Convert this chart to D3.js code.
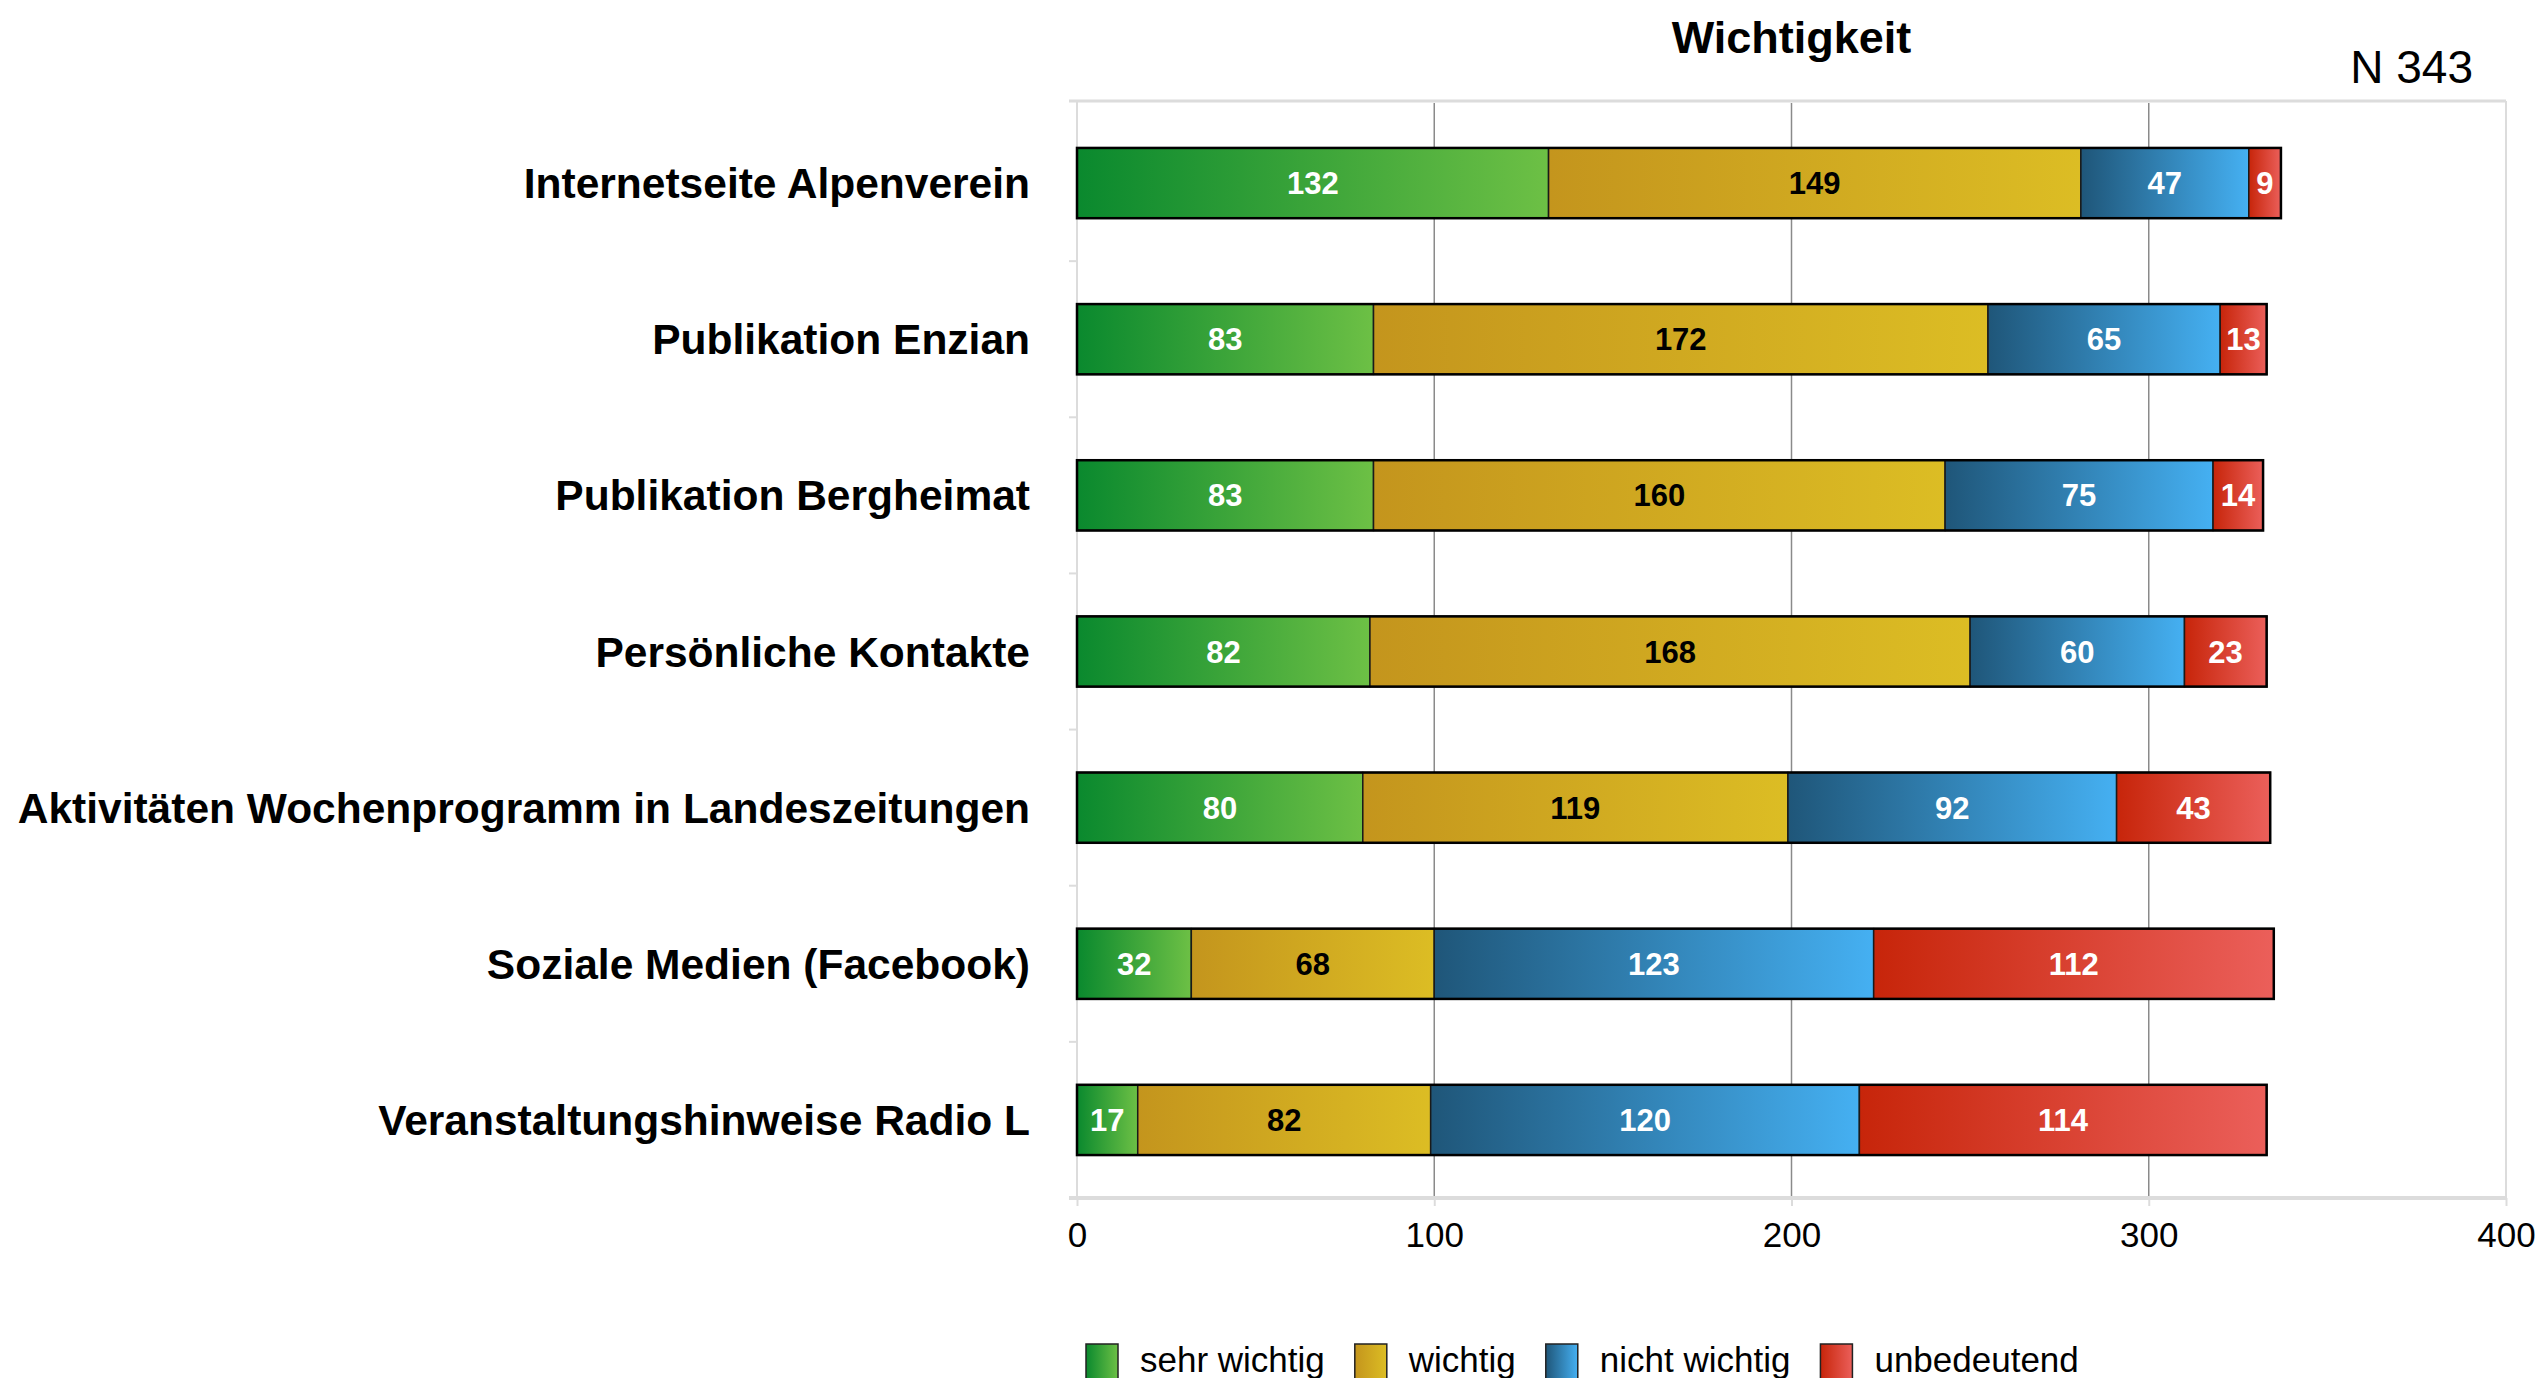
<!DOCTYPE html>
<html>
<head>
<meta charset="utf-8">
<script src="https://cdn.jsdelivr.net/npm/d3@7"></script>
<style>
  body { margin: 0; background: #fff; }
  text { font-family: "Liberation Sans", Arial, Helvetica, sans-serif; }
</style>
</head>
<body>
<script>
var width = 2537, height = 1378;

// data
var categories = [
  "Internetseite Alpenverein",
  "Publikation Enzian",
  "Publikation Bergheimat",
  "Persönliche Kontakte",
  "Aktivitäten Wochenprogramm in Landeszeitungen",
  "Soziale Medien (Facebook)",
  "Veranstaltungshinweise Radio L"
];
var seriesNames = ["sehr wichtig", "wichtig", "nicht wichtig", "unbedeutend"];
var sehrWichtig  = [132, 83, 83, 82, 80, 32, 17];
var wichtig      = [149, 172, 160, 168, 119, 68, 82];
var nichtWichtig = [47, 65, 75, 60, 92, 123, 120];
var unbedeutend  = [9, 13, 14, 23, 43, 112, 114];
var xTicks = [0, 100, 200, 300, 400];
var titleText = "Wichtigkeit";
var noteText = "N 343";

var seriesValues = [sehrWichtig, wichtig, nichtWichtig, unbedeutend];
// gradient stops per series (dark -> light), label colour
var gradColors = [
  ["#0a892e", "#6dc045"],
  ["#c4951d", "#dcbd24"],
  ["#1f5679", "#45b0f2"],
  ["#c7250a", "#eb5f5a"]
];
var labelColors = ["#fff", "#000", "#fff", "#fff"];

var rows = categories.map(function(c, i) {
  var r = {cat: c};
  seriesNames.forEach(function(s, j) { r[s] = seriesValues[j][i]; });
  return r;
});

var svg = d3.select("body")
.append("svg")
.attr("width", width)
.attr("height", height);

var defs = svg.append("defs");
gradColors.forEach(function(g, i) {
  var lg = defs.append("linearGradient")
  .attr("id", "grad" + i)
  .attr("x1", "0%").attr("x2", "100%")
  .attr("y1", "0%").attr("y2", "0%");
  lg.append("stop").attr("offset", "0%").attr("stop-color", g[0]);
  lg.append("stop").attr("offset", "100%").attr("stop-color", g[1]);
});

var plotLeft = 1077, plotRight = 2506, plotTop = 101, plotBottom = 1198;

var x = d3.scaleLinear()
.domain([0, 400])
.range([plotLeft, plotRight]);

var y = d3.scaleBand()
.domain(categories)
.range([plotTop + 4, plotBottom])
.paddingInner(0.55)
.paddingOuter(0.275);

var stack = d3.stack().keys(seriesNames);
var stacked = stack(rows);

// frame: top and right border, light gray
svg.append("line")
.attr("x1", plotLeft - 8).attr("x2", plotRight)
.attr("y1", plotTop).attr("y2", plotTop)
.attr("stroke", "#dcdcdc").attr("stroke-width", 3);
svg.append("line")
.attr("x1", plotRight).attr("x2", plotRight)
.attr("y1", plotTop).attr("y2", plotBottom)
.attr("stroke", "#dcdcdc").attr("stroke-width", 2);
svg.append("line")
.attr("x1", plotLeft).attr("x2", plotLeft)
.attr("y1", plotTop).attr("y2", plotBottom)
.attr("stroke", "#dcdcdc").attr("stroke-width", 2);

// gridlines
svg.selectAll(".grid")
.data(xTicks.slice(1, -1))
.enter()
.append("line")
.attr("class", "grid")
.attr("x1", function(d) { return x(d); })
.attr("x2", function(d) { return x(d); })
.attr("y1", plotTop + 2)
.attr("y2", plotBottom)
.attr("stroke", "#8a8a8a")
.attr("stroke-width", 1.5);

// category separators on left axis
var bandStep = y.step();
svg.selectAll(".catTick")
.data(categories.slice(1))
.enter()
.append("line")
.attr("class", "catTick")
.attr("x1", plotLeft - 8).attr("x2", plotLeft)
.attr("y1", function(d) { return y(d) - (bandStep - y.bandwidth()) / 2; })
.attr("y2", function(d) { return y(d) - (bandStep - y.bandwidth()) / 2; })
.attr("stroke", "#dcdcdc").attr("stroke-width", 2);

// bottom axis
var xAxis = d3.axisBottom(x)
.tickValues(xTicks)
.tickSize(8)
.tickPadding(16);

var axisG = svg.append("g")
.attr("transform", "translate(0," + plotBottom + ")")
.call(xAxis);
axisG.select(".domain")
.attr("stroke", "#dcdcdc").attr("stroke-width", 4)
.attr("d", "M" + (plotLeft - 8) + ",0H" + plotRight);
axisG.selectAll(".tick line").attr("stroke", "#dcdcdc").attr("stroke-width", 2);
axisG.selectAll(".tick text")
.attr("font-size", 35)
.attr("fill", "#000")
.attr("font-family", "Liberation Sans, Arial, sans-serif");

// bars
var layers = svg.selectAll(".layer")
.data(stacked)
.enter()
.append("g")
.attr("class", "layer");

layers.selectAll("rect")
.data(function(d) { return d.map(function(p) { p.key = d.key; p.idx = d.index; return p; }); })
.enter()
.append("rect")
.attr("x", function(d) { return x(d[0]); })
.attr("y", function(d) { return y(d.data.cat); })
.attr("width", function(d) { return x(d[1]) - x(d[0]); })
.attr("height", y.bandwidth())
.attr("fill", function(d) { return "url(#grad" + d.idx + ")"; })
.attr("stroke", "#1a1a1a")
.attr("stroke-width", 1.5);

// outer outline of each bar
svg.selectAll(".barOutline")
.data(rows)
.enter()
.append("rect")
.attr("class", "barOutline")
.attr("x", x(0))
.attr("y", function(d) { return y(d.cat); })
.attr("width", function(d) {
  return x(d3.sum(seriesNames, function(s) { return d[s]; })) - x(0);
})
.attr("height", y.bandwidth())
.attr("fill", "none")
.attr("stroke", "#000")
.attr("stroke-width", 2.5);

// value labels
layers.selectAll("text")
.data(function(d) { return d; })
.enter()
.append("text")
.attr("x", function(d) { return (x(d[0]) + x(d[1])) / 2; })
.attr("y", function(d) { return y(d.data.cat) + y.bandwidth() / 2 + 11; })
.attr("text-anchor", "middle")
.attr("font-size", 31)
.attr("font-weight", "bold")
.attr("fill", function(d) { return labelColors[d.idx]; })
.text(function(d) { return d[1] - d[0]; });

// category labels
svg.selectAll(".catLabel")
.data(categories)
.enter()
.append("text")
.attr("class", "catLabel")
.attr("x", 1030)
.attr("y", function(d) { return y(d) + y.bandwidth() / 2 + 15; })
.attr("text-anchor", "end")
.attr("font-size", 42.5)
.attr("font-weight", "bold")
.attr("fill", "#000")
.text(function(d) { return d; });

// title and note
svg.append("text")
.attr("x", (plotLeft + plotRight) / 2)
.attr("y", 53)
.attr("text-anchor", "middle")
.attr("font-size", 45)
.attr("font-weight", "bold")
.text(titleText);

svg.append("text")
.attr("x", 2473)
.attr("y", 83)
.attr("text-anchor", "end")
.attr("font-size", 46)
.text(noteText);

// legend
var legend = svg.append("g").attr("class", "legend");
var lx = 1086;
seriesNames.forEach(function(s, i) {
  legend.append("rect")
  .attr("x", lx).attr("y", 1344)
  .attr("width", 32).attr("height", 38)
  .attr("fill", "url(#grad" + i + ")")
  .attr("stroke", "#222").attr("stroke-width", 1.5);
  var t = legend.append("text")
  .attr("x", lx + 54)
  .attr("y", 1372)
  .attr("font-size", 35)
  .text(s);
  lx = lx + 54 + t.node().getComputedTextLength() + 30;
});
</script>
</body>
</html>
